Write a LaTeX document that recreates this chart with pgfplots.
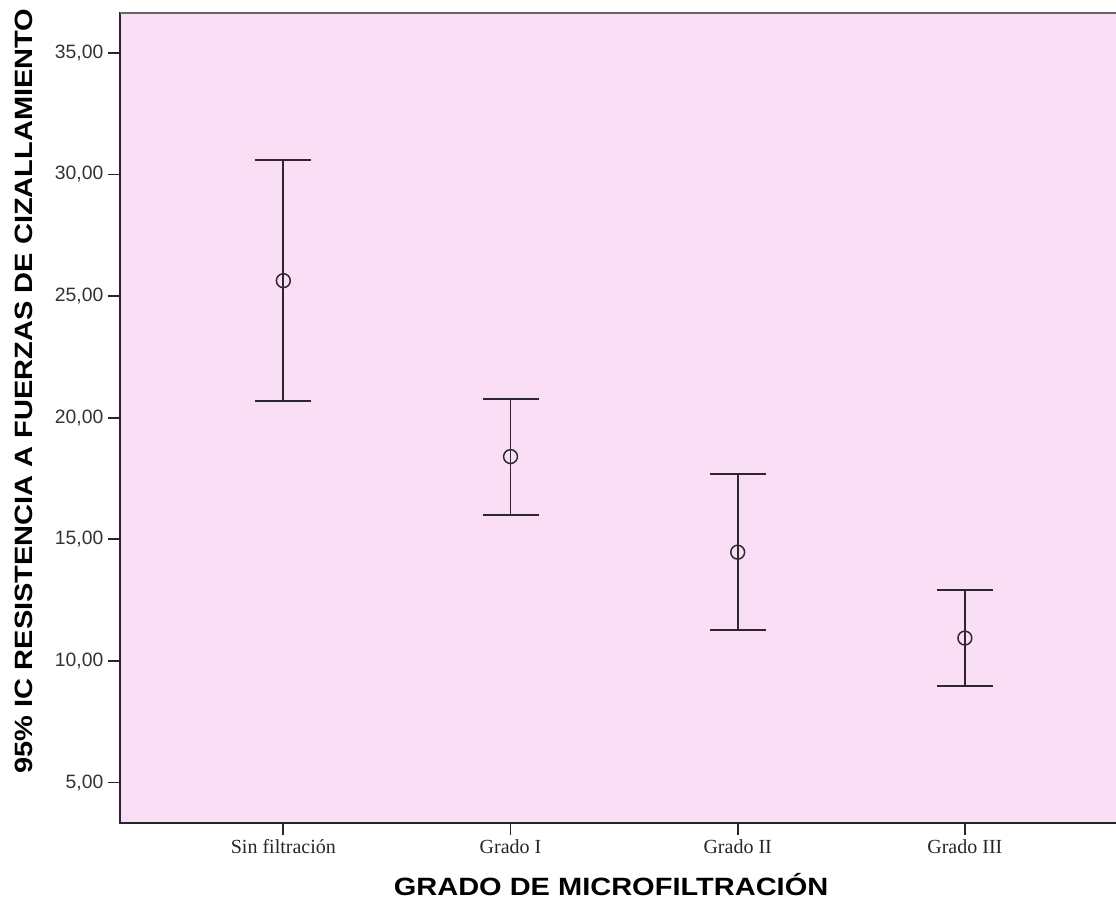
\documentclass[border=0pt]{standalone}
\usepackage{pgfplots}
\pgfplotsset{compat=1.18}
\usepackage{pgfplotstable}
\usepackage{fontspec}
\setmainfont{Liberation Sans}
\newfontfamily\serifticks{Liberation Serif}
\newfontfamily\labfont[FakeStretch=1.16]{Liberation Sans}
\definecolor{pinkbg}{RGB}{250,222,245}
\definecolor{barcol}{RGB}{45,38,45}

\pgfplotstableread{
x mean ep em
0 25.63 4.95 4.94
1 18.40 2.36 2.40
2 14.47 3.20 3.19
3 10.94 1.99 1.96
}\datatab

\begin{document}
\begin{tikzpicture}
\begin{axis}[
  scale only axis,
  width=757pt, height=607.5pt,
  xmin=-0.719, xmax=3.724,
  ymin=3.352, ymax=36.648,
  axis background/.style={fill=pinkbg},
  axis line style={black!85, line width=1.3pt},
  xtick={0,1,2,3},
  xticklabels={Sin filtración, Grado I, Grado II, Grado III},
  ytick={5,10,15,20,25,30,35},
  yticklabels={{5,00},{10,00},{15,00},{20,00},{25,00},{30,00},{35,00}},
  tick align=outside,
  xtick pos=bottom, ytick pos=left,
  major tick length=9pt,
  tick style={black!85, line width=1.3pt},
  xticklabel style={font=\serifticks\fontsize{15}{17}\selectfont, text=black!85},
  yticklabel style={font=\fontsize{14.5}{17}\selectfont, text=black!80},
  xlabel={GRADO DE MICROFILTRACIÓN},
  ylabel={95\% IC RESISTENCIA A FUERZAS DE CIZALLAMIENTO},
  xlabel style={font=\labfont\bfseries\fontsize{18.75}{20}\selectfont, at={(axis description cs:0.4865,0)}, anchor=center, yshift=-46.5pt},
  ylabel style={font=\labfont\bfseries\fontsize{18.75}{20}\selectfont, at={(axis description cs:0,0.533)}, anchor=center, yshift=72pt},
  clip=false,
]
\addplot[
  draw=none,
  mark=o, mark size=5.2pt,
  mark options={draw=barcol, fill=pinkbg, line width=1.1pt},
  error bars/.cd,
    y dir=both, y explicit,
    error bar style={barcol, line width=1.4pt},
    error mark options={barcol, line width=1.4pt, mark size=21pt, rotate=90},
] table[x=x, y=mean, y error plus=ep, y error minus=em] {\datatab};
\end{axis}
\draw[gray!80!black, line width=1.6pt] (current axis.north west) -- (current axis.north east);
\pgfresetboundingbox
\path (current axis.south west) ++(-90pt,-58.7pt) coordinate (bbsw);
\path (current axis.north west) ++(747pt,9.5pt) coordinate (bbne);
\useasboundingbox (bbsw) rectangle (bbne);
\end{tikzpicture}
\end{document}
